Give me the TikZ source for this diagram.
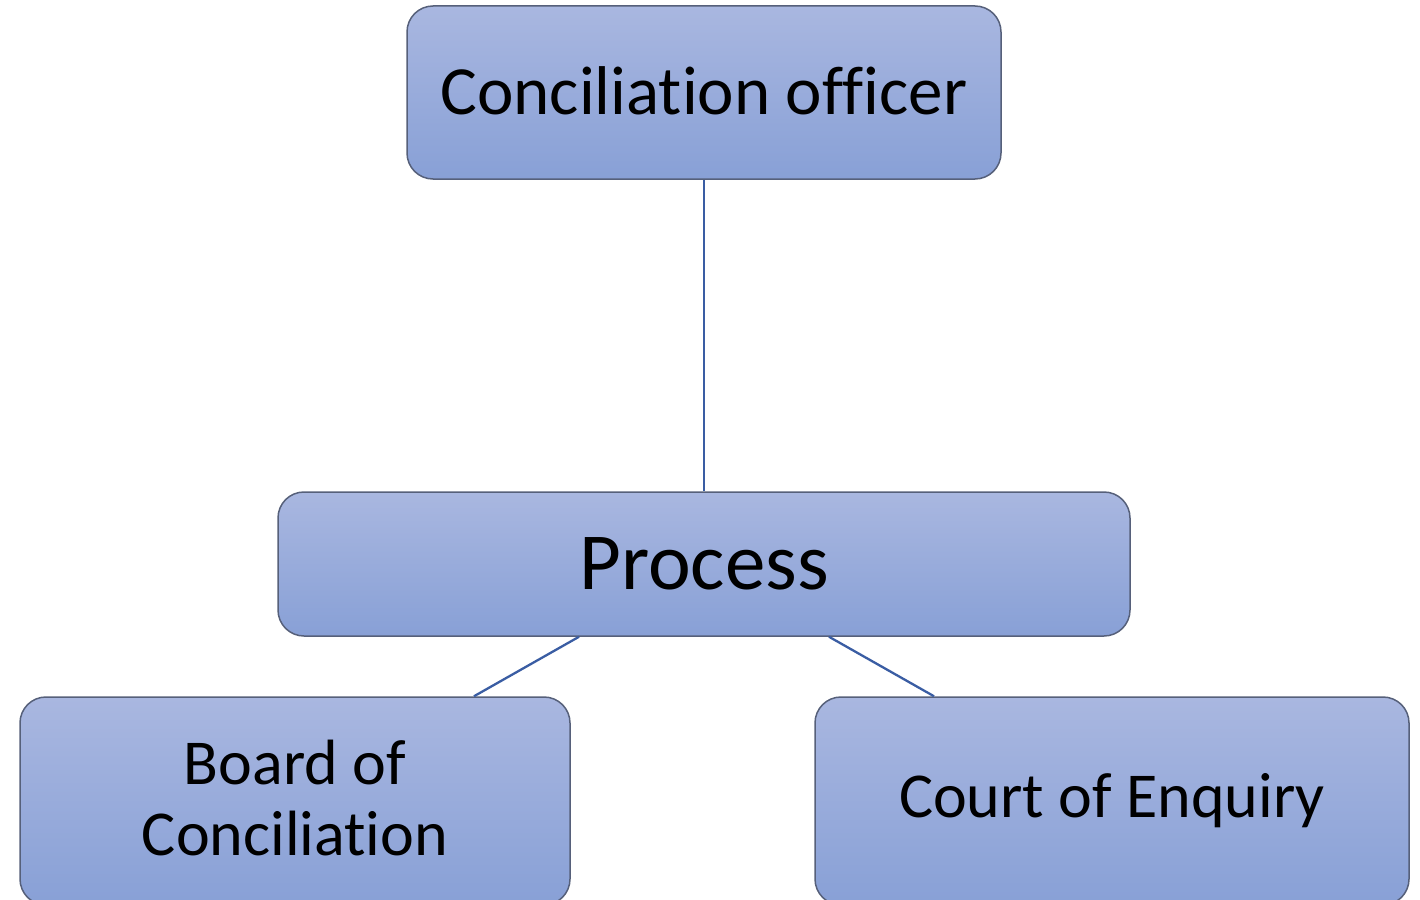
\documentclass[tikz,border=0pt]{standalone}
\usepackage{fontspec}
\setmainfont{Carlito}[Ligatures=NoCommon]
\definecolor{boxtop}{HTML}{A9B7E0}
\definecolor{boxbot}{HTML}{88A0D6}
\definecolor{boxline}{HTML}{56607A}
\definecolor{linkcol}{HTML}{3A5DA3}
\tikzset{
  box/.style={draw=boxline, line width=1.5pt, rounded corners=26pt, top color=boxtop, bottom color=boxbot, rectangle, inner sep=0pt, align=center, text=black},
  link/.style={draw=linkcol, line width=2.3pt}
}
\begin{document}
\begin{tikzpicture}[x=1pt,y=-1pt]
\useasboundingbox (0,0) rectangle (1420,899);
\clip (0,0) rectangle (1420,899);
\node[box, minimum width=594pt, minimum height=173pt, font=\fontsize{69}{80}\selectfont] (top) at (704,92.5) {\raisebox{3pt}{Conciliation officer}};
\node[box, minimum width=852pt, minimum height=144pt, font=\fontsize{81}{94}\selectfont] (process) at (704,564) {Process};
\node[box, minimum width=550pt, minimum height=208pt, font=\fontsize{64}{71}\selectfont] (board) at (295,801) {Board of\\Conciliation\rule[-6pt]{0pt}{6pt}};
\node[box, minimum width=594pt, minimum height=208pt, font=\fontsize{64}{71}\selectfont] (court) at (1112,801) {Court of Enquiry};
\draw[link] (top.south) -- (process.north);
\draw[link] ([xshift=-125pt]process.south) -- ([xshift=179pt]board.north);
\draw[link] ([xshift=125pt]process.south) -- ([xshift=-178pt]court.north);
\end{tikzpicture}
\end{document}
